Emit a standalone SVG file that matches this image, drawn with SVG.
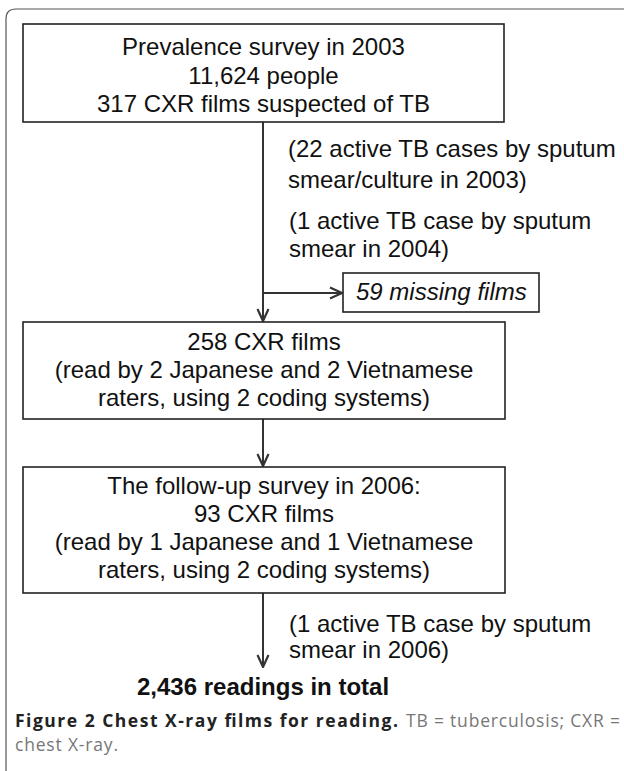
<svg xmlns="http://www.w3.org/2000/svg" width="624" height="771" viewBox="0 0 624 771">
<style>
.box{fill:#fff;stroke:#222;stroke-width:1.6}
.t{font-family:"Liberation Sans",Arial,sans-serif;font-size:24px;fill:#111}
.c{text-anchor:middle}
.it{font-style:italic}
.conn{stroke:#333;stroke-width:2;fill:none}
.frame{stroke:#555;stroke-width:1.2;fill:none}
.cap{font-family:"Open Sans","Noto Sans",sans-serif;font-size:17.5px}
</style>
<defs>
<marker id="ah" viewBox="0 0 14 14" refX="13" refY="7" markerWidth="14" markerHeight="14" markerUnits="userSpaceOnUse" orient="auto">
<path d="M1,1.5 L13,7 L1,12.5" fill="none" stroke="#333" stroke-width="2.2"/>
</marker>
</defs>
<rect width="624" height="771" fill="#fff"/>
<path class="frame" d="M6,771 V19 Q6,9 16,9 H624"/>
<g id="connectors">
<line class="conn" x1="263" y1="122" x2="263" y2="321" marker-end="url(#ah)"/>
<line class="conn" x1="263" y1="293" x2="342" y2="293" marker-end="url(#ah)"/>
<line class="conn" x1="263" y1="419" x2="263" y2="466" marker-end="url(#ah)"/>
<line class="conn" x1="263" y1="593" x2="263" y2="667" marker-end="url(#ah)"/>
</g>
<g id="box1">
<rect class="box" x="23" y="24" width="481" height="98"/>
<text class="t c" x="263.5" y="55">Prevalence survey in 2003</text>
<text class="t c" x="263.5" y="83.5">11,624 people</text>
<text class="t c" x="263.5" y="112">317 CXR films suspected of TB</text>
</g>
<g id="label1">
<text class="t" x="288" y="157">(22 active TB cases by sputum</text>
<text class="t" x="288" y="188">smear/culture in 2003)</text>
</g>
<g id="label2">
<text class="t" x="289" y="229">(1 active TB case by sputum</text>
<text class="t" x="289" y="257">smear in 2004)</text>
</g>
<g id="missing">
<rect class="box" x="343" y="273" width="196" height="39"/>
<text class="t it" x="356" y="300">59 missing films</text>
</g>
<g id="box2">
<rect class="box" x="23" y="322" width="482" height="97"/>
<text class="t c" x="264" y="350">258 CXR films</text>
<text class="t c" x="264" y="378">(read by 2 Japanese and 2 Vietnamese</text>
<text class="t c" x="264" y="406">raters, using 2 coding systems)</text>
</g>
<g id="box3">
<rect class="box" x="23" y="467" width="482" height="126"/>
<text class="t c" x="264" y="494">The follow-up survey in 2006:</text>
<text class="t c" x="264" y="522">93 CXR films</text>
<text class="t c" x="264" y="550">(read by 1 Japanese and 1 Vietnamese</text>
<text class="t c" x="264" y="578">raters, using 2 coding systems)</text>
</g>
<g id="label3">
<text class="t" x="289" y="632">(1 active TB case by sputum</text>
<text class="t" x="289" y="658">smear in 2006)</text>
</g>
<g id="total">
<text class="t" x="137" y="695" font-weight="bold" fill="#333">2,436 readings in total</text>
</g>
<g id="caption">
<text class="cap" x="15" y="727" font-weight="bold" fill="#222" textLength="383" lengthAdjust="spacing">Figure 2 Chest X-ray films for reading.</text>
<text class="cap" x="406" y="727" fill="#777" textLength="214" lengthAdjust="spacing">TB = tuberculosis; CXR =</text>
<text class="cap" x="15" y="751" fill="#777" textLength="103" lengthAdjust="spacing">chest X-ray.</text>
</g>
</svg>
